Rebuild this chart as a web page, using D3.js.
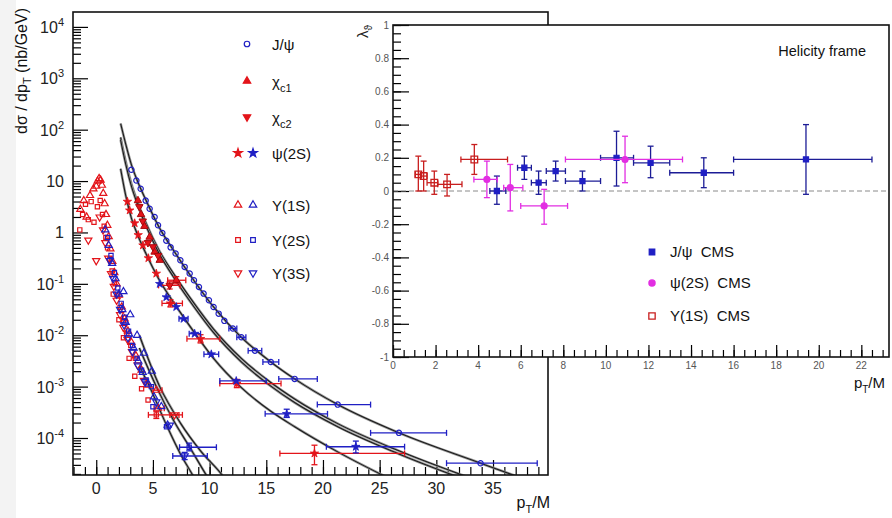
<!DOCTYPE html>
<html>
<head>
<meta charset="utf-8">
<script src="https://cdnjs.cloudflare.com/ajax/libs/d3/7.8.5/d3.min.js"></script>
<style>
body { margin: 0; background: #fff; }
svg { display: block; font-family: "Liberation Sans", Arial, Helvetica, sans-serif; }
</style>
</head>
<body>
<div id="chart"></div>
<script>
// Left panel values: [pT/M, log10(dsigma/dpT), xlo, xhi, ylo, yhi] (errors optional)
var jpsiXS = [
  [3.10,1.22],[3.54,1.01],[3.92,0.85],[4.36,0.62],[4.71,0.46],[5.15,0.30],[5.45,0.14],
  [5.83,-0.01],[6.18,-0.16],[6.56,-0.29],[7.00,-0.41],[7.42,-0.54],[7.80,-0.67],[8.24,-0.80],
  [8.62,-0.93],[9.06,-1.06],[9.47,-1.19],[9.94,-1.32],[10.35,-1.45],[10.80,-1.58],[11.30,-1.72],
  [12.05,-1.87,11.7,12.4],[12.8,-2.04,12.4,13.2],[14.0,-2.30,13.4,14.6],[15.4,-2.52,14.7,16.1],
  [17.5,-2.85,16.1,19.5],[21.3,-3.35,19.5,24.2],[26.7,-3.90,24.2,30.9],[33.9,-4.49,30.9,38.9]
];
var chic1XS = [[3.68,0.62],[3.95,0.35],[4.25,0.12],[4.71,-0.09],[5.15,-0.38],[5.6,-0.54],[7.06,-0.93,6.3,7.9,-1.0,-0.86]];
var chic2XS = [[3.8,0.5],[4.1,0.22],[4.56,-0.2],[5.0,-0.28],[5.45,-0.45],[6.48,-1.03,5.5,7.4,-1.1,-0.96]];
var psi2sRedXS = [
  [2.75,0.6],[2.95,0.43],[3.39,0.18],[3.7,-0.05],[4.12,-0.25],[4.6,-0.5],[5.3,-0.8],
  [6.55,-1.38,5.8,7.6,-1.45,-1.31],[9.2,-2.07,8.0,10.9,-2.15,-1.99],[12.4,-2.94,10.9,16.3,-3.02,-2.86],
  [19.25,-4.30,16.2,27.2,-4.52,-4.14]
];
var psi2sBlueXS = [
  [5.6,-1.0],[6.18,-1.26],[7.06,-1.45],[7.7,-1.68,7.3,8.1],[8.68,-1.97,8.2,9.2],[10.15,-2.37,9.5,10.8],
  [12.35,-2.89,10.9,15.0],[16.8,-3.53,14.9,20.4,-3.6,-3.44],[22.9,-4.17,20.3,27.2,-4.29,-4.06]
];
var ups1sRed = [
  [-1.4,0.45],[-1.1,0.62],[-0.85,0.3],[-0.55,0.72],[-0.25,0.85],[0.0,0.9],[0.12,1.0],[0.25,1.05],
  [0.38,1.02],[0.5,0.92],[0.62,0.76],[0.74,0.56],[0.86,0.35],[0.98,0.14],[1.1,-0.08],[1.25,-0.32],
  [1.42,-0.56],[1.6,-0.78],[1.8,-1.0],[2.0,-1.22],[2.25,-1.45],[2.5,-1.68],[2.8,-1.92],[3.1,-2.14],
  [3.5,-2.4],[4.0,-2.68],[4.6,-2.97],[5.3,-3.07,5.0,5.8],[5.45,-3.42,5.1,6.0]
];
var ups2sRed = [
  [-1.45,0.05],[-1.2,0.35],[-0.95,0.55],[-0.7,0.25],[-0.45,0.6],[-0.2,0.2],[0.1,0.5],[0.35,0.62],
  [0.55,0.35],[0.7,0.12],[0.85,-0.1],[1.0,-0.3],[1.2,-0.52],[1.4,-0.75],[1.6,-0.98],[1.85,-1.22],
  [2.1,-1.46],[2.4,-1.72],[2.7,-1.96],[3.05,-2.2],[3.45,-2.45],[4.0,-3.04],[4.57,-3.26],
  [1.5,-1.2],[2.0,-1.7],[2.4,-2.05],[2.9,-2.45],[3.4,-2.8],
  [5.3,-3.55,4.6,7.3,-3.62,-3.48]
];
var ups3sRed = [
  [-0.7,-0.15],[0.0,-0.55],[0.3,0.3],[0.6,0.05],[0.8,-0.2],[1.05,-0.5],[1.3,-0.8],[1.55,-1.05],
  [1.8,-1.32],[2.1,-1.6],[2.4,-1.85],[2.75,-2.08],[3.15,-2.32],[3.65,-2.58],[4.2,-2.88],[6.9,-3.55,6.5,7.6]
];
var ups1sBlue = [
  [0.8,0.05],[1.1,-0.25],[1.4,-0.6],[1.7,-0.9],[2.0,-1.2],[2.3,-1.5],[2.6,-1.75],[2.9,-1.98],
  [3.3,-2.25],[3.7,-2.5],[4.1,-2.72],[4.6,-2.95],[5.1,-3.2],[5.74,-3.39],[6.3,-3.75],
  [2.4,-1.15],[3.0,-1.6],[3.6,-2.0],[4.2,-2.35],[4.9,-2.7]
];
var ups2sBlue = [
  [1.0,-0.1],[1.3,-0.45],[1.6,-0.78],[1.9,-1.08],[2.2,-1.38],[2.5,-1.65],[2.85,-1.92],[3.2,-2.2],
  [3.6,-2.45],[4.0,-2.68],[4.4,-2.87],[4.86,-3.0],[5.0,-3.39],[6.2,-3.78],[8.2,-4.18,7.35,10.6,-4.25,-4.1]
];
var ups3sBlue = [
  [1.2,-0.55],[1.5,-0.9],[1.8,-1.2],[2.1,-1.5],[2.45,-1.8],[2.8,-2.05],[3.2,-2.32],[3.7,-2.6],
  [4.3,-2.9],[5.3,-3.3],[6.5,-3.75],[7.8,-4.35,6.75,9.8,-4.42,-4.28]
];

// fit curves: [pT/M, log10]
var fitJpsi = [[2.15,2.12],[2.6,1.72],[3.1,1.32],[3.6,1.02],[4.4,0.62],[5.5,0.12],[7,-0.41],[8.6,-0.93],[10.35,-1.45],[12.8,-2.04],[15.4,-2.52],[17.5,-2.85],[21.3,-3.35],[26.7,-3.90],[33.9,-4.49],[38,-4.82]];
var fitChi1 = [[2.15,1.85],[2.6,1.38],[3.1,0.95],[3.6,0.62],[4.4,0.18],[5.5,-0.33],[7,-0.86],[8.6,-1.37],[10.35,-1.88],[12.8,-2.45],[15.4,-2.92],[17.5,-3.24],[21.3,-3.72],[26.7,-4.25],[33.9,-4.85]];
var fitChi2 = [[2.15,1.80],[2.6,1.33],[3.1,0.90],[3.6,0.57],[4.4,0.12],[5.5,-0.39],[7,-0.93],[8.6,-1.44],[10.35,-1.95],[12.8,-2.52],[15.4,-2.99],[17.5,-3.31],[21.3,-3.78],[26.7,-4.31],[33.9,-4.92]];
var fitPsi2s = [[2.15,1.24],[2.6,0.72],[3.1,0.28],[3.6,-0.02],[4.4,-0.42],[5.5,-0.90],[7,-1.42],[8.6,-1.93],[10.35,-2.45],[12.8,-3.02],[15.4,-3.48],[17.5,-3.78],[21.3,-4.27],[26.7,-4.88]];
var fitUps1 = [[3.8,-2.6],[4.7,-3.0],[6.2,-3.75],[7.4,-4.3],[8.5,-4.72],[9.0,-4.92]];
var fitUps2 = [[3.8,-2.25],[5.3,-3.0],[6.8,-3.65],[8.3,-4.2],[9.7,-4.72],[10.2,-4.9]];
var fitUps3 = [[3.8,-2.0],[5.6,-3.0],[7.4,-3.7],[9.2,-4.25],[11.1,-4.72],[11.6,-4.87]];

// inset: lambda_theta, helicity frame: [pT/M, lambda, xlo, xhi, ylo, yhi]
var jpsiLam = [
  [4.88,0.00,4.55,5.3,-0.08,0.09],[6.17,0.14,5.85,6.5,0.07,0.21],[6.84,0.05,6.5,7.2,-0.02,0.12],
  [7.64,0.12,7.2,8.1,0.06,0.18],[8.9,0.06,8.1,9.75,0.0,0.12],[10.5,0.20,9.75,11.3,0.03,0.36],
  [12.1,0.17,11.3,13.0,0.08,0.27],[14.6,0.11,13.0,16.0,0.02,0.20],[19.4,0.19,16.0,22.5,-0.02,0.40]
];
var psi2sLam = [
  [4.41,0.07,3.8,4.9,-0.04,0.18],[5.51,0.02,5.2,6.1,-0.12,0.16],[7.1,-0.09,6.0,8.2,-0.20,0.01],
  [10.9,0.19,8.1,13.6,0.05,0.33]
];
var ups1sLam = [
  [1.19,0.10,1.05,1.32,0.0,0.21],[1.44,0.09,1.32,1.6,0.0,0.18],[1.94,0.05,1.6,2.1,-0.02,0.12],
  [2.54,0.04,2.1,3.24,-0.03,0.10],[3.82,0.19,3.19,5.38,0.10,0.28]
];

var yTickExp = [-4,-3,-2,-1,0,1,2,3,4];
var xTicksL = [0,5,10,15,20,25,30,35];
var xTicksI = [0,2,4,6,8,10,12,14,16,18,20,22];
var yTicksI = [-1,-0.8,-0.6,-0.4,-0.2,0,0.2,0.4,0.6,0.8,1];

var W = 892, H = 518;
var RED = "#e3141a", DRED = "#a8080c", BLUE = "#1f1fc4", NAVY = "#1c1c96", MAG = "#e22ee2";

var svg = d3.select("#chart").append("svg").attr("width", W).attr("height", H);
svg.append("rect").attr("width", W).attr("height", H).attr("fill", "#fff");
svg.append("rect").attr("width", 16).attr("height", H).attr("fill", "#f3f3f3");

// ---------- left panel ----------
var L = {left: 73, top: 12, right: 548, bottom: 475};
var xL = d3.scaleLinear().domain([-2.05, 39.85]).range([L.left, L.right]);
var yL = d3.scaleLog().domain([Math.pow(10, -4.72), Math.pow(10, 4.29)]).range([L.bottom, L.top]);
var yLv = function(v) { return yL(Math.pow(10, v)); };

var gL = svg.append("g");
svg.append("clipPath").attr("id", "clipL").append("rect")
  .attr("x", L.left).attr("y", L.top).attr("width", L.right - L.left).attr("height", L.bottom - L.top);

var yMinor = [];
for (var n = -5; n <= 4; n++) for (var k = 2; k <= 9; k++) {
  var v = k * Math.pow(10, n);
  if (v > yL.domain()[0] && v < yL.domain()[1]) yMinor.push(v);
}
var yMajor = yTickExp.map(function(e) { return Math.pow(10, e); });

function inward(g) { g.select(".domain").remove(); g.selectAll("line").attr("stroke", "#000").attr("stroke-width", 1.2); }

gL.append("g").attr("transform", "translate(" + L.left + ",0)")
  .call(d3.axisLeft(yL).tickValues(yMajor).tickSize(-15).tickFormat("")).call(inward);
gL.append("g").attr("transform", "translate(" + L.left + ",0)")
  .call(d3.axisLeft(yL).tickValues(yMinor).tickSize(-8).tickFormat("")).call(inward);
gL.append("g").attr("transform", "translate(0," + L.bottom + ")")
  .call(d3.axisBottom(xL).tickValues(xTicksL).tickSize(-15).tickFormat("")).call(inward);
gL.append("g").attr("transform", "translate(0," + L.bottom + ")")
  .call(d3.axisBottom(xL).tickValues(d3.range(-2, 40, 1)).tickSize(-8).tickFormat("")).call(inward);

// y labels
yTickExp.forEach(function(e) {
  var t = gL.append("text").attr("x", 64).attr("y", yLv(e) + 6).attr("text-anchor", "end")
    .attr("font-size", 16).attr("fill", "#222");
  if (e === 0) t.text("1");
  else if (e === 1) t.text("10");
  else {
    t.append("tspan").text("10");
    t.append("tspan").attr("dy", -7).attr("font-size", 11).text(e);
  }
});
xTicksL.forEach(function(v) {
  gL.append("text").attr("x", xL(v)).attr("y", 494).attr("text-anchor", "middle")
    .attr("font-size", 16).attr("fill", "#222").text(v);
});

var yt = gL.append("text").attr("transform", "translate(27,8) rotate(-90)")
  .attr("text-anchor", "end").attr("font-size", 16).attr("fill", "#111");
yt.append("tspan").text("dσ / dp");
yt.append("tspan").attr("dy", 4).attr("font-size", 11).text("T");
yt.append("tspan").attr("dy", -4).text(" (nb/GeV)");

var xt = gL.append("text").attr("x", 550).attr("y", 508).attr("text-anchor", "end")
  .attr("font-size", 16).attr("fill", "#111");
xt.append("tspan").text("p");
xt.append("tspan").attr("dy", 5).attr("font-size", 11).text("T");
xt.append("tspan").attr("dy", -5).text("/M");

// curves
var lineL = d3.line().x(function(d) { return xL(d[0]); }).y(function(d) { return yLv(d[1]); }).curve(d3.curveMonotoneX);
var gC = gL.append("g").attr("clip-path", "url(#clipL)");
[fitJpsi, fitChi1, fitChi2, fitPsi2s, fitUps1, fitUps2, fitUps3].forEach(function(c) {
  gC.append("path").attr("d", lineL(c)).attr("fill", "none").attr("stroke", "#9a9a9a").attr("stroke-width", 2.6);
  gC.append("path").attr("d", lineL(c)).attr("fill", "none").attr("stroke", "#1a1a1a").attr("stroke-width", 1.1);
});

var symGen = {
  circle: d3.symbol().type(d3.symbolCircle),
  tri: d3.symbol().type(d3.symbolTriangle),
  square: d3.symbol().type(d3.symbolSquare),
  star: d3.symbol().type(d3.symbolStar)
};

function drawSeries(g, data, sx, sy, o) {
  var eb = g.append("g").attr("stroke", o.err || o.color).attr("stroke-width", o.ew || 1.3).attr("fill", "none");
  var cap = o.cap || 3;
  data.forEach(function(d) {
    var cx = sx(d[0]), cy = sy(d[1]);
    if (d.length > 2) {
      var a = sx(d[2]), b = sx(d[3]);
      eb.append("line").attr("x1", a).attr("x2", b).attr("y1", cy).attr("y2", cy);
      eb.append("line").attr("x1", a).attr("x2", a).attr("y1", cy - cap).attr("y2", cy + cap);
      eb.append("line").attr("x1", b).attr("x2", b).attr("y1", cy - cap).attr("y2", cy + cap);
    }
    if (d.length > 4) {
      var lo = sy(d[4]), hi = sy(d[5]);
      eb.append("line").attr("x1", cx).attr("x2", cx).attr("y1", lo).attr("y2", hi);
      eb.append("line").attr("x1", cx - cap).attr("x2", cx + cap).attr("y1", lo).attr("y2", lo);
      eb.append("line").attr("x1", cx - cap).attr("x2", cx + cap).attr("y1", hi).attr("y2", hi);
    }
  });
  g.append("g").selectAll("path").data(data).join("path")
    .attr("transform", function(d) { return "translate(" + sx(d[0]) + "," + sy(d[1]) + ")" + (o.flip ? " rotate(180)" : ""); })
    .attr("d", symGen[o.shape].size(o.size))
    .attr("fill", o.fill ? o.color : "#fff").attr("fill-opacity", o.fill ? 1 : 0)
    .attr("stroke", o.stroke || o.color).attr("stroke-width", o.sw || 1.2);
}

var gP = gL.append("g").attr("clip-path", "url(#clipL)");
drawSeries(gP, ups1sRed, xL, yLv, {shape: "tri", size: 22, color: RED});
drawSeries(gP, ups2sRed, xL, yLv, {shape: "square", size: 18, color: RED});
drawSeries(gP, ups3sRed, xL, yLv, {shape: "tri", flip: true, size: 22, color: RED});
drawSeries(gP, ups1sBlue, xL, yLv, {shape: "tri", size: 22, color: BLUE});
drawSeries(gP, ups2sBlue, xL, yLv, {shape: "square", size: 18, color: BLUE});
drawSeries(gP, ups3sBlue, xL, yLv, {shape: "tri", flip: true, size: 22, color: BLUE});
drawSeries(gP, jpsiXS, xL, yLv, {shape: "circle", size: 22, color: BLUE});
drawSeries(gP, chic1XS, xL, yLv, {shape: "tri", size: 24, color: RED, fill: true, stroke: DRED, sw: 1});
drawSeries(gP, chic2XS, xL, yLv, {shape: "tri", flip: true, size: 24, color: RED, fill: true, stroke: DRED, sw: 1});
drawSeries(gP, psi2sRedXS, xL, yLv, {shape: "star", size: 22, color: RED, fill: true, sw: 0.8});
drawSeries(gP, psi2sBlueXS, xL, yLv, {shape: "star", size: 22, color: BLUE, fill: true, sw: 0.8});

gL.append("rect").attr("x", L.left).attr("y", L.top).attr("width", L.right - L.left).attr("height", L.bottom - L.top)
  .attr("fill", "none").attr("stroke", "#111").attr("stroke-width", 1.6);

// legend of the left panel
var legRows = [
  {y: 44, label: ["J/ψ"], marks: [{x: 247, shape: "circle", color: BLUE}]},
  {y: 81, label: ["χ", "c1"], marks: [{x: 247, shape: "tri", color: RED, fill: true}]},
  {y: 117, label: ["χ", "c2"], marks: [{x: 247, shape: "tri", flip: true, color: RED, fill: true}]},
  {y: 153, label: ["ψ(2S)"], marks: [{x: 238, shape: "star", color: RED, fill: true}, {x: 253, shape: "star", color: BLUE, fill: true}]},
  {y: 205, label: ["Υ(1S)"], marks: [{x: 238, shape: "tri", color: RED}, {x: 253, shape: "tri", color: BLUE}]},
  {y: 240, label: ["Υ(2S)"], marks: [{x: 238, shape: "square", color: RED}, {x: 253, shape: "square", color: BLUE}]},
  {y: 273, label: ["Υ(3S)"], marks: [{x: 238, shape: "tri", flip: true, color: RED}, {x: 253, shape: "tri", flip: true, color: BLUE}]}
];
legRows.forEach(function(r) {
  r.marks.forEach(function(m) {
    gL.append("path").attr("transform", "translate(" + m.x + "," + r.y + ")" + (m.flip ? " rotate(180)" : ""))
      .attr("d", symGen[m.shape].size(m.shape === "square" ? 22 : 24))
      .attr("fill", m.fill ? m.color : "none").attr("stroke", m.color).attr("stroke-width", 1.2);
  });
  var t = gL.append("text").attr("x", 272).attr("y", r.y + 5.5).attr("font-size", 15).attr("fill", "#111");
  t.append("tspan").text(r.label[0]);
  if (r.label[1]) t.append("tspan").attr("dy", 5).attr("font-size", 11).text(r.label[1]);
});

// ---------- inset ----------
var I = {left: 393, top: 25, right: 889, bottom: 357};
var xI = d3.scaleLinear().domain([0, 23.3]).range([I.left, I.right]);
var yI = d3.scaleLinear().domain([-1, 1]).range([I.bottom, I.top]);
var gI = svg.append("g");
gI.append("rect").attr("x", I.left).attr("y", I.top).attr("width", I.right - I.left).attr("height", I.bottom - I.top)
  .attr("fill", "#fff");

gI.append("g").attr("transform", "translate(" + I.left + ",0)")
  .call(d3.axisLeft(yI).tickValues(yTicksI).tickSize(-16).tickFormat("")).call(inward);
gI.append("g").attr("transform", "translate(" + I.left + ",0)")
  .call(d3.axisLeft(yI).tickValues(d3.range(-1, 1.001, 0.05)).tickSize(-8).tickFormat("")).call(inward);
gI.append("g").attr("transform", "translate(0," + I.bottom + ")")
  .call(d3.axisBottom(xI).tickValues(xTicksI).tickSize(-12).tickFormat("")).call(inward);
gI.append("g").attr("transform", "translate(0," + I.bottom + ")")
  .call(d3.axisBottom(xI).tickValues(d3.range(0, 23.3, 0.5)).tickSize(-7).tickFormat("")).call(inward);

yTicksI.forEach(function(v) {
  gI.append("text").attr("x", 389).attr("y", yI(v) + 3.5).attr("text-anchor", "end")
    .attr("font-size", 10).attr("fill", "#555").text(String(+v.toFixed(1)));
});
xTicksI.forEach(function(v) {
  gI.append("text").attr("x", xI(v)).attr("y", 369).attr("text-anchor", "middle")
    .attr("font-size", 10).attr("fill", "#555").text(v);
});

var lt = gI.append("text").attr("transform", "translate(368,25) rotate(-90)").attr("text-anchor", "end")
  .attr("font-size", 15).attr("fill", "#222");
lt.append("tspan").text("λ");
lt.append("tspan").attr("dy", 4).attr("font-size", 10).text("ϑ");

var xti = gI.append("text").attr("x", 885).attr("y", 388).attr("text-anchor", "end")
  .attr("font-size", 15).attr("fill", "#111");
xti.append("tspan").text("p");
xti.append("tspan").attr("dy", 5).attr("font-size", 10).text("T");
xti.append("tspan").attr("dy", -5).text("/M");

gI.append("text").attr("x", 866).attr("y", 56).attr("text-anchor", "end").attr("font-size", 14.5)
  .attr("fill", "#111").text("Helicity frame");

gI.append("line").attr("x1", I.left).attr("x2", I.right).attr("y1", yI(0)).attr("y2", yI(0))
  .attr("stroke", "#8a8a8a").attr("stroke-width", 1).attr("stroke-dasharray", "5,3");

var yIv = function(v) { return yI(v); };
drawSeries(gI, ups1sLam, xI, yIv, {shape: "square", size: 44, color: "#c81e1e", sw: 1.3});
drawSeries(gI, jpsiLam, xI, yIv, {shape: "square", size: 26, color: BLUE, err: NAVY, fill: true});
drawSeries(gI, psi2sLam, xI, yIv, {shape: "circle", size: 28, color: MAG, fill: true});

gI.append("rect").attr("x", I.left).attr("y", I.top).attr("width", I.right - I.left).attr("height", I.bottom - I.top)
  .attr("fill", "none").attr("stroke", "#111").attr("stroke-width", 1.6);

var legI = [
  {y: 252, label: "J/ψ  CMS", shape: "square", color: BLUE, fill: true, size: 30},
  {y: 283, label: "ψ(2S)  CMS", shape: "circle", color: MAG, fill: true, size: 30},
  {y: 316, label: "Υ(1S)  CMS", shape: "square", color: "#c81e1e", fill: false, size: 40}
];
legI.forEach(function(r) {
  gI.append("path").attr("transform", "translate(652," + r.y + ")")
    .attr("d", symGen[r.shape].size(r.size))
    .attr("fill", r.fill ? r.color : "none").attr("stroke", r.color).attr("stroke-width", 1.3);
  gI.append("text").attr("x", 670).attr("y", r.y + 5).attr("font-size", 15).attr("fill", "#111")
    .attr("xml:space", "preserve").style("white-space", "pre").text(r.label);
});
</script>
</body>
</html>
